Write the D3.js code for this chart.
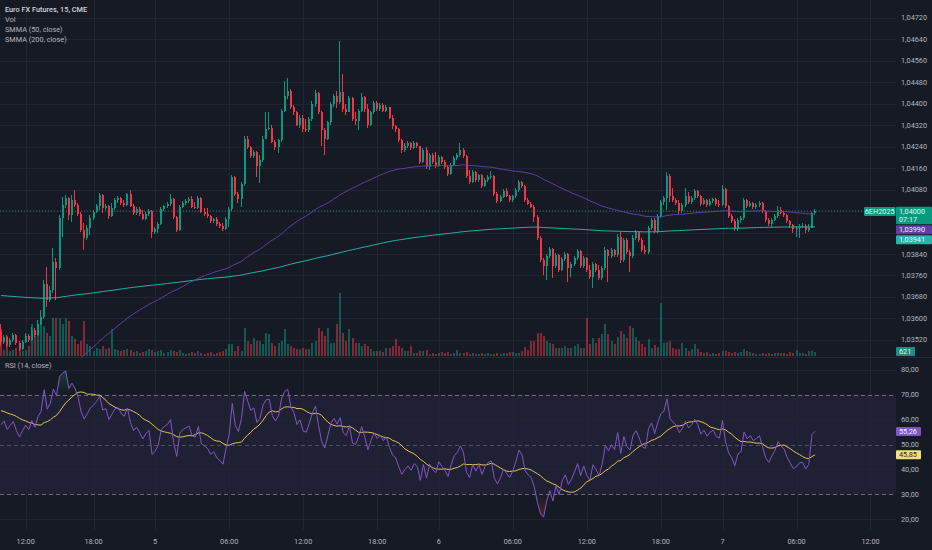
<!DOCTYPE html>
<html>
<head>
  <meta charset="utf-8">
  <script src="https://d3js.org/d3.v7.min.js"></script>
  <title>Euro FX Futures, 15, CME</title>
  <style>
    body { margin: 0; background: #161a25; }
    svg text { font-family: Roboto, "Noto Sans", sans-serif; }
  </style>
</head>
<body>
<div id="chart"></div>
<script>
// 15 minute bars (open of a bar = previous close)
var firstOpen = 1.03552;
var closes = [
  1.03511,1.03530,1.03500,1.03519,1.03537,1.03507,1.03485,1.03511,1.03533,1.03519,
  1.03556,1.03537,1.03581,1.03604,1.03730,1.03670,1.03707,1.03811,1.03789,1.03974,
  1.04022,1.04048,1.03985,1.04041,1.04022,1.03989,1.03930,1.03900,1.03937,1.03974,
  1.03996,1.04019,1.04059,1.04011,1.04019,1.03981,1.04011,1.04041,1.04048,1.04030,
  1.04022,1.04063,1.04019,1.03993,1.04007,1.03989,1.03970,1.03989,1.04000,1.03922,
  1.03933,1.03952,1.04007,1.04019,1.04026,1.04044,1.03978,1.03930,1.04015,1.04030,
  1.04037,1.04044,1.04015,1.04011,1.04048,1.03996,1.03989,1.03981,1.03963,1.03970,
  1.03952,1.03944,1.03933,1.03970,1.04007,1.04126,1.04063,1.04044,1.04100,1.04270,
  1.04237,1.04204,1.04219,1.04167,1.04189,1.04270,1.04307,1.04311,1.04256,1.04237,
  1.04263,1.04374,1.04430,1.04448,1.04389,1.04367,1.04322,1.04348,1.04304,1.04300,
  1.04344,1.04400,1.04441,1.04370,1.04300,1.04270,1.04330,1.04400,1.04430,1.04407,
  1.04444,1.04381,1.04370,1.04422,1.04344,1.04337,1.04374,1.04426,1.04381,1.04322,
  1.04367,1.04404,1.04381,1.04396,1.04374,1.04389,1.04348,1.04315,1.04304,1.04263,
  1.04226,1.04241,1.04252,1.04233,1.04252,1.04241,1.04181,1.04226,1.04163,1.04207,
  1.04181,1.04167,1.04200,1.04181,1.04163,1.04137,1.04170,1.04196,1.04207,1.04226,
  1.04204,1.04130,1.04107,1.04144,1.04115,1.04133,1.04093,1.04115,1.04126,1.04130,
  1.04063,1.04037,1.04052,1.04074,1.04056,1.04041,1.04056,1.04078,1.04107,1.04093,
  1.04041,1.04026,1.04015,1.03978,1.03900,1.03819,1.03796,1.03833,1.03859,1.03796,
  1.03837,1.03781,1.03822,1.03841,1.03789,1.03804,1.03826,1.03852,1.03796,1.03826,
  1.03781,1.03756,1.03804,1.03781,1.03752,1.03789,1.03856,1.03833,1.03856,1.03837,
  1.03904,1.03819,1.03893,1.03848,1.03833,1.03900,1.03922,1.03893,1.03856,1.03848,
  1.03937,1.03967,1.03926,1.03981,1.04033,1.04048,1.04130,1.04056,1.04041,1.04030,
  1.04000,1.04022,1.04056,1.04033,1.04048,1.04074,1.04056,1.04026,1.04041,1.04022,
  1.04037,1.04044,1.04026,1.04022,1.04081,1.04019,1.03981,1.03963,1.03933,1.03967,
  1.03974,1.04041,1.04019,1.04030,1.04015,1.04022,1.04030,1.04000,1.03967,1.03952,
  1.03967,1.03981,1.04004,1.03993,1.03985,1.03963,1.03948,1.03933,1.03937,1.03944,
  1.03944,1.03930,1.03937,1.03993,1.04000
];
var highs = [
  1.03578,1.03537,1.03537,1.03526,1.03544,1.03541,1.03515,1.03519,1.03544,1.03541,
  1.03567,1.03563,1.03593,1.03633,1.03744,1.03793,1.03719,1.03863,1.03826,1.03985,
  1.04052,1.04059,1.04052,1.04059,1.04078,1.04030,1.03996,1.03956,1.03948,1.03985,
  1.04004,1.04026,1.04067,1.04063,1.04026,1.04022,1.04030,1.04048,1.04056,1.04052,
  1.04041,1.04067,1.04078,1.04026,1.04015,1.04015,1.04004,1.03996,1.04007,1.04004,
  1.03941,1.03959,1.04015,1.04022,1.04033,1.04063,1.04048,1.03981,1.04022,1.04037,
  1.04044,1.04052,1.04056,1.04033,1.04056,1.04052,1.04011,1.04011,1.03985,1.03974,
  1.03978,1.03959,1.03956,1.03978,1.04015,1.04133,1.04130,1.04070,1.04107,1.04278,
  1.04278,1.04244,1.04226,1.04222,1.04207,1.04278,1.04367,1.04367,1.04319,1.04263,
  1.04270,1.04381,1.04485,1.04496,1.04456,1.04396,1.04374,1.04359,1.04356,1.04344,
  1.04352,1.04411,1.04452,1.04444,1.04374,1.04311,1.04337,1.04407,1.04437,1.04448,
  1.04633,1.04511,1.04400,1.04430,1.04426,1.04367,1.04381,1.04441,1.04430,1.04400,
  1.04374,1.04411,1.04411,1.04404,1.04404,1.04396,1.04389,1.04356,1.04322,1.04311,
  1.04270,1.04252,1.04259,1.04256,1.04259,1.04256,1.04244,1.04233,1.04237,1.04215,
  1.04215,1.04219,1.04207,1.04204,1.04189,1.04170,1.04178,1.04204,1.04215,1.04252,
  1.04233,1.04207,1.04152,1.04152,1.04148,1.04137,1.04137,1.04122,1.04133,1.04148,
  1.04133,1.04070,1.04059,1.04081,1.04085,1.04059,1.04059,1.04085,1.04115,1.04111,
  1.04096,1.04048,1.04033,1.04022,1.03985,1.03907,1.03826,1.03841,1.03867,1.03863,
  1.03844,1.03841,1.03830,1.03848,1.03844,1.03811,1.03833,1.03859,1.03856,1.03833,
  1.03830,1.03800,1.03811,1.03807,1.03800,1.03796,1.03867,1.03859,1.03863,1.03859,
  1.03915,1.03922,1.03900,1.03900,1.03856,1.03911,1.03930,1.03926,1.03900,1.03874,
  1.03944,1.03974,1.03974,1.03989,1.04041,1.04056,1.04144,1.04137,1.04085,1.04048,
  1.04041,1.04030,1.04085,1.04070,1.04056,1.04081,1.04078,1.04059,1.04048,1.04044,
  1.04044,1.04048,1.04048,1.04041,1.04096,1.04085,1.04022,1.03989,1.03970,1.03974,
  1.03981,1.04048,1.04044,1.04037,1.04033,1.04030,1.04037,1.04033,1.04004,1.03974,
  1.03974,1.03989,1.04019,1.04015,1.04000,1.03989,1.03967,1.03952,1.03944,1.03952,
  1.03956,1.03952,1.03952,1.03996,1.04007
];
var lows = [
  1.03496,1.03504,1.03493,1.03493,1.03511,1.03500,1.03478,1.03481,1.03507,1.03511,
  1.03515,1.03530,1.03533,1.03574,1.03596,1.03644,1.03663,1.03696,1.03670,1.03781,
  1.03904,1.04011,1.03967,1.03959,1.04015,1.03981,1.03922,1.03856,1.03893,1.03911,
  1.03967,1.03993,1.04004,1.03993,1.04004,1.03970,1.03978,1.04004,1.04030,1.04022,
  1.04015,1.04019,1.04015,1.03985,1.03985,1.03981,1.03967,1.03967,1.03981,1.03900,
  1.03915,1.03919,1.03948,1.04000,1.04011,1.04019,1.03970,1.03922,1.03926,1.04011,
  1.04022,1.04030,1.04011,1.04007,1.04007,1.03993,1.03981,1.03974,1.03956,1.03956,
  1.03944,1.03937,1.03926,1.03930,1.03941,1.04000,1.04056,1.04030,1.04015,1.04093,
  1.04230,1.04196,1.04196,1.04126,1.04104,1.04181,1.04267,1.04300,1.04252,1.04226,
  1.04215,1.04256,1.04367,1.04419,1.04381,1.04359,1.04315,1.04311,1.04296,1.04293,
  1.04293,1.04337,1.04389,1.04363,1.04244,1.04207,1.04263,1.04322,1.04389,1.04385,
  1.04400,1.04367,1.04359,1.04367,1.04337,1.04322,1.04300,1.04367,1.04367,1.04311,
  1.04315,1.04363,1.04374,1.04374,1.04367,1.04367,1.04344,1.04307,1.04296,1.04256,
  1.04215,1.04219,1.04233,1.04226,1.04230,1.04233,1.04174,1.04178,1.04156,1.04152,
  1.04174,1.04159,1.04163,1.04174,1.04156,1.04130,1.04133,1.04167,1.04189,1.04200,
  1.04196,1.04122,1.04100,1.04104,1.04107,1.04107,1.04085,1.04089,1.04107,1.04119,
  1.04056,1.04030,1.04033,1.04048,1.04052,1.04033,1.04033,1.04048,1.04070,1.04085,
  1.04033,1.04022,1.04011,1.03959,1.03893,1.03811,1.03763,1.03744,1.03826,1.03752,
  1.03789,1.03774,1.03778,1.03815,1.03737,1.03756,1.03796,1.03819,1.03789,1.03789,
  1.03774,1.03748,1.03715,1.03774,1.03744,1.03744,1.03781,1.03737,1.03826,1.03830,
  1.03830,1.03807,1.03811,1.03841,1.03774,1.03826,1.03893,1.03885,1.03848,1.03841,
  1.03841,1.03930,1.03919,1.03919,1.03974,1.04022,1.04004,1.04033,1.04033,1.04022,
  1.03985,1.03993,1.04015,1.04026,1.04026,1.04041,1.04048,1.04019,1.04022,1.04015,
  1.04019,1.04030,1.04019,1.04015,1.04019,1.04011,1.03974,1.03956,1.03926,1.03926,
  1.03956,1.03967,1.04011,1.04015,1.04007,1.04007,1.04015,1.03993,1.03959,1.03944,
  1.03941,1.03963,1.03974,1.03989,1.03978,1.03956,1.03937,1.03919,1.03904,1.03900,
  1.03937,1.03919,1.03922,1.03941,1.03985
];
var volumes = [
  4190,930,3100,780,930,1240,1090,780,930,1550,
  4960,3100,3880,5890,4650,3570,3100,5890,5890,5890,
  4960,5890,5430,3100,2640,1860,2330,5430,1860,1550,
  780,1240,1090,1550,1090,1240,4190,1090,930,780,
  930,1090,930,620,780,470,620,780,1090,930,
  620,780,930,470,620,930,780,620,930,470,
  310,470,620,470,780,470,310,470,620,310,
  470,620,780,1090,1860,1860,780,1550,780,4340,
  2330,1860,2790,2330,2330,1860,3570,3410,2020,1550,
  2020,2330,4190,1860,1550,1240,1090,1090,1240,1090,
  1090,2020,2330,4340,3880,3100,4340,2020,2020,4960,
  9770,3570,2330,4190,2790,2020,2020,1550,1860,1550,
  1090,780,780,780,620,1240,1240,1550,2640,1550,
  1240,780,780,1550,470,470,780,780,930,310,
  470,310,470,620,470,620,310,470,930,470,
  470,620,310,470,310,310,470,310,470,310,
  310,470,310,470,470,620,620,470,470,780,
  1400,930,2330,2330,3570,3570,3100,2330,2020,1860,
  1240,1240,1240,1550,1240,1240,1550,1860,1240,1240,
  5890,1860,2790,2020,2790,3410,4960,3410,2330,1860,
  2950,3880,3410,2790,4650,4340,2950,2330,1860,1400,
  2640,1240,1710,1400,8220,2020,2170,2330,1240,1090,
  1090,2020,1240,780,1090,1860,1090,620,470,620,
  310,470,310,470,780,780,620,470,620,470,
  620,1090,780,620,470,310,310,470,310,470,
  310,470,470,470,470,310,620,470,930,470,
  470,310,780,780,621
];

// time axis: bar index of each label
var tickBars = [8, 30, 50, 74, 98, 122, 142, 166, 190, 214, 234, 258, 282];
var tickLabels = ["12:00", "18:00", "5", "06:00", "12:00", "18:00", "6", "06:00", "12:00", "18:00", "7", "06:00", "12:00"];
var priceTicks = [1.0352, 1.0360, 1.0368, 1.0376, 1.0384, 1.0392, 1.0400, 1.0408,
                  1.0416, 1.0424, 1.0432, 1.0440, 1.0448, 1.0456, 1.0464, 1.0472];
var rsiTicks = [20, 30, 40, 50, 60, 70, 80];

// indicator state before the first visible bar (estimated)
var smmaSeed50 = 1.0325;
var smmaSeed200 = 1.03686;
var rsiSeedGain = 0.00025;
var rsiSeedLoss = 0.00015;
var rsiMaSeed = 64;
var countdown = "07:17";
var symbolTag = "6EH2025";

var W = 932, H = 550;
var plotW = 896;
var priceBottom = 357, rsiTop = 358, rsiBottom = 530;
var bg = "#161a25", gridCol = "#212532", textCol = "#b2b5be";
var up = "#089981", down = "#f23645";
var col50 = "#5e3fa6", col200 = "#2ab0a5";
var rsiCol = "#7e57c2", rsiMaCol = "#e3c350";

var opens = closes.map(function(c, i) { return i ? closes[i - 1] : firstOpen; });
var bars = closes.map(function(c, i) {
  return {i: i, o: opens[i], c: c,
          h: Math.max(highs[i], c, opens[i]),
          l: Math.min(lows[i], c, opens[i]),
          v: volumes[i]};
});

// SMMA
function smma(seed, n) {
  var s = seed;
  return closes.map(function(c) { s = (s * (n - 1) + c) / n; return s; });
}
var smma50 = smma(smmaSeed50, 50);
var smma200 = smma(smmaSeed200, 200);

// RSI 14 (Wilder) and its 14 SMA
var g = rsiSeedGain, l = rsiSeedLoss;
var rsi = closes.map(function(c, i) {
  var d = c - opens[i];
  g = (g * 13 + Math.max(d, 0)) / 14;
  l = (l * 13 + Math.max(-d, 0)) / 14;
  return l === 0 ? 100 : 100 - 100 / (1 + g / l);
});
var rsiMa = rsi.map(function(r, i) {
  var sum = 0;
  for (var k = i - 13; k <= i; k++) sum += k < 0 ? rsiMaSeed : rsi[k];
  return sum / 14;
});

var x = d3.scaleLinear().domain([0, 264]).range([1, 815]);
var y = d3.scaleLinear().domain([1.0352, 1.0472]).range([339.9, 17.7]);
var yVol = d3.scaleLinear().domain([0, d3.max(volumes)]).range([356, 293]);
var yRsi = d3.scaleLinear().domain([30, 70]).range([494.3, 394.7]);

var fmtP = function(v) { return d3.format(".5f")(v).replace(".", ","); };
var fmt2 = function(v) { return d3.format(".2f")(v).replace(".", ","); };
var px = function(i) { return Math.round(x(i)); };

var svg = d3.select("#chart").append("svg")
  .attr("width", W).attr("height", H);
svg.append("rect").attr("width", W).attr("height", H).attr("fill", bg);

var defs = svg.append("defs");
defs.append("clipPath").attr("id", "clipPrice").append("rect")
  .attr("x", 0).attr("y", 0).attr("width", plotW).attr("height", priceBottom);
defs.append("clipPath").attr("id", "clipRsi").append("rect")
  .attr("x", 0).attr("y", rsiTop).attr("width", plotW).attr("height", rsiBottom - rsiTop);

function gradient(id, color, from, to) {
  var lg = defs.append("linearGradient").attr("id", id)
    .attr("gradientUnits", "userSpaceOnUse")
    .attr("x1", 0).attr("x2", 0).attr("y1", yRsi(from)).attr("y2", yRsi(to));
  lg.append("stop").attr("offset", 0).attr("stop-color", color).attr("stop-opacity", 0.9);
  lg.append("stop").attr("offset", 1).attr("stop-color", color).attr("stop-opacity", 0);
}
gradient("obGrad", "#1f9a6e", 100, 70);
gradient("osGrad", "#d8434e", 0, 30);

// RSI band
svg.append("rect").attr("x", 0).attr("width", plotW)
  .attr("y", yRsi(70)).attr("height", yRsi(30) - yRsi(70))
  .attr("fill", "rgba(126,87,194,0.1)");

// grid
var grid = svg.append("g").attr("stroke", gridCol).attr("shape-rendering", "crispEdges");
grid.selectAll("line.v").data(tickBars).join("line")
  .attr("x1", function(d) { return px(d) + 0.5; }).attr("x2", function(d) { return px(d) + 0.5; })
  .attr("y1", 0).attr("y2", rsiBottom);
grid.selectAll("line.hp").data(priceTicks).join("line")
  .attr("x1", 0).attr("x2", plotW)
  .attr("y1", function(d) { return Math.round(y(d)) + 0.5; })
  .attr("y2", function(d) { return Math.round(y(d)) + 0.5; });
grid.selectAll("line.hr").data([20, 40, 60, 80]).join("line")
  .attr("x1", 0).attr("x2", plotW)
  .attr("y1", function(d) { return Math.round(yRsi(d)) + 0.5; })
  .attr("y2", function(d) { return Math.round(yRsi(d)) + 0.5; });

// price pane
var gp = svg.append("g").attr("clip-path", "url(#clipPrice)");
var colorOf = function(d) { return d.c >= d.o ? up : down; };

gp.append("g").attr("shape-rendering", "crispEdges")
  .selectAll("rect").data(bars).join("rect")
  .attr("x", function(d) { return px(d.i) - 1; })
  .attr("width", 2)
  .attr("y", function(d) { return yVol(d.v); })
  .attr("height", function(d) { return 356 - yVol(d.v); })
  .attr("fill", function(d) { return d.c >= d.o ? "rgba(8,153,129,0.5)" : "rgba(242,54,69,0.5)"; });

gp.append("line").attr("x1", 0).attr("x2", plotW)
  .attr("y1", y(closes[closes.length - 1])).attr("y2", y(closes[closes.length - 1]))
  .attr("stroke", up).attr("stroke-opacity", 0.8).attr("stroke-dasharray", "1,2");

var candles = gp.append("g").attr("shape-rendering", "crispEdges")
  .selectAll("g").data(bars).join("g");
candles.append("rect")
  .attr("x", function(d) { return px(d.i) - 1; }).attr("width", 1)
  .attr("y", function(d) { return y(d.h); })
  .attr("height", function(d) { return Math.max(1, y(d.l) - y(d.h)); })
  .attr("fill", colorOf);
candles.append("rect")
  .attr("x", function(d) { return px(d.i) - 1.5; }).attr("width", 2)
  .attr("y", function(d) { return y(Math.max(d.o, d.c)); })
  .attr("height", function(d) { return Math.max(1, Math.abs(y(d.o) - y(d.c))); })
  .attr("fill", colorOf);

var lineP = function(vals) {
  return d3.line().x(function(d, i) { return x(i); }).y(function(d) { return y(d); })(vals);
};
gp.append("path").attr("d", lineP(smma200)).attr("fill", "none")
  .attr("stroke", col200).attr("stroke-width", 1);
gp.append("path").attr("d", lineP(smma50)).attr("fill", "none")
  .attr("stroke", col50).attr("stroke-width", 1);

// legend
var legend = svg.append("g").attr("font-size", 7.3).attr("fill", textCol);
legend.append("text").attr("x", 5).attr("y", 9).attr("dy", "0.35em")
  .attr("fill", "#d1d4dc").attr("font-weight", 500).text("Euro FX Futures, 15, CME");
["Vol", "SMMA (50, close)", "SMMA (200, close)"].forEach(function(t, k) {
  legend.append("text").attr("x", 5).attr("y", 19.3 + k * 10).attr("dy", "0.35em").text(t);
});

// RSI pane
var gr = svg.append("g").attr("clip-path", "url(#clipRsi)");
[70, 50, 30].forEach(function(v) {
  gr.append("line").attr("x1", 0).attr("x2", plotW)
    .attr("y1", Math.round(yRsi(v)) + 0.5).attr("y2", Math.round(yRsi(v)) + 0.5)
    .attr("stroke", "#787b86").attr("stroke-opacity", v === 50 ? 0.55 : 0.85)
    .attr("stroke-dasharray", "4,3");
});
gr.append("path").attr("fill", "url(#obGrad)")
  .attr("d", d3.area().x(function(d, i) { return x(i); })
    .y0(yRsi(70)).y1(function(d) { return yRsi(Math.max(d, 70)); })(rsi));
gr.append("path").attr("fill", "url(#osGrad)")
  .attr("d", d3.area().x(function(d, i) { return x(i); })
    .y0(yRsi(30)).y1(function(d) { return yRsi(Math.min(d, 30)); })(rsi));
var lineR = d3.line().x(function(d, i) { return x(i); }).y(function(d) { return yRsi(d); });
gr.append("path").attr("d", lineR(rsiMa)).attr("fill", "none")
  .attr("stroke", rsiMaCol).attr("stroke-width", 1);
gr.append("path").attr("d", lineR(rsi)).attr("fill", "none")
  .attr("stroke", rsiCol).attr("stroke-width", 1);
svg.append("text").attr("x", 5).attr("y", 365.7).attr("dy", "0.35em")
  .attr("font-size", 7.3).attr("fill", textCol).text("RSI (14, close)");

// pane separator
svg.append("line").attr("x1", 0).attr("x2", W).attr("y1", 357.5).attr("y2", 357.5)
  .attr("stroke", "#262a36");

// right axis tags
var last = closes.length - 1;
function tagBox(x0, w, yc, h, fill, texts, tcol) {
  var g0 = svg.append("g");
  g0.append("rect").attr("x", x0).attr("y", yc - h / 2).attr("width", w).attr("height", h)
    .attr("rx", 1).attr("fill", fill);
  texts.forEach(function(t, k) {
    g0.append("text").attr("x", x0 + 3).attr("y", yc - h / 2 + 4.5 + k * 8.5).attr("dy", "0.35em")
      .attr("font-size", 7.3).attr("fill", tcol).text(t);
  });
}
var priceY = y(closes[last]);
var boxes = [{y0: priceY - 4.3, y1: priceY + 13.3}];
tagBox(896, 36, priceY + 4.5, 17.6, up, [fmtP(closes[last]), countdown], "#e8f4f1");
svg.append("rect").attr("x", 864).attr("y", priceY - 4).attr("width", 31.5).attr("height", 9)
  .attr("rx", 1).attr("fill", up);
svg.append("text").attr("x", 879.7).attr("y", priceY + 0.5).attr("dy", "0.35em")
  .attr("text-anchor", "middle").attr("font-size", 7.3).attr("fill", "#e8f4f1").text(symbolTag);

var prevBottom = priceY + 13.3;
[[smma50[last], col50], [smma200[last], "#26b3a8"]].forEach(function(t) {
  var yc = Math.max(y(t[0]), prevBottom + 1 + 4.5);
  tagBox(896, 36, yc, 9, t[1], [fmtP(t[0])], "#f2f2f5");
  boxes.push({y0: yc - 4.5, y1: yc + 4.5});
  prevBottom = yc + 4.5;
});
// volume tag
tagBox(896, 19, yVol(volumes[last]) - 0.5, 9, "#1d8f80", [String(volumes[last])], "#f0efd0");

// price axis labels
var axisText = svg.append("g").attr("font-size", 7.3).attr("fill", textCol);
priceTicks.filter(function(v) {
  var yy = y(v);
  return !boxes.some(function(b) { return yy > b.y0 - 4 && yy < b.y1 + 4; });
}).forEach(function(v) {
  axisText.append("text").attr("x", 901).attr("y", y(v)).attr("dy", "0.35em").text(fmtP(v));
});
rsiTicks.forEach(function(v) {
  axisText.append("text").attr("x", 901).attr("y", yRsi(v)).attr("dy", "0.35em").text(fmt2(v));
});

// RSI tags
tagBox(896, 25, yRsi(rsi[last]), 9, rsiCol, [fmt2(rsi[last])], "#f2f2f5");
tagBox(896, 25, yRsi(rsiMa[last]), 9, "#f1de7c", [fmt2(rsiMa[last])], "#2a2a2a");

// time axis
axisText.selectAll("text.t").data(tickBars).join("text")
  .attr("x", function(d) { return x(d); }).attr("y", 541.7).attr("dy", "0.35em")
  .attr("text-anchor", "middle")
  .text(function(d, k) { return tickLabels[k]; });
</script>
</body>
</html>
